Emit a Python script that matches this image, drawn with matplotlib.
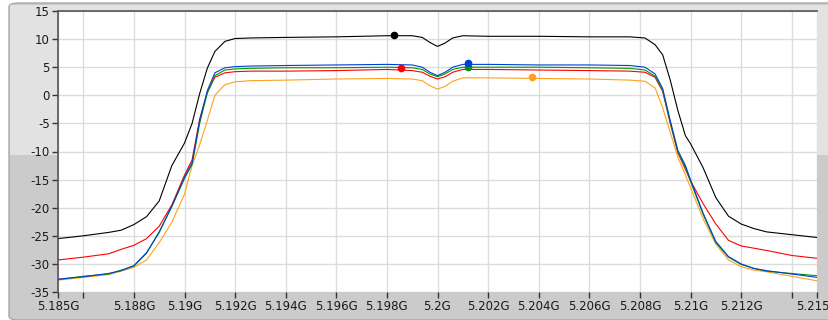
"""Spectrum plot of five channels around 5.2 GHz, with marker dots."""

import matplotlib
matplotlib.use("Agg")
import matplotlib.pyplot as plt
from matplotlib.patches import Rectangle, FancyBboxPatch

matplotlib.rcParams["axes.unicode_minus"] = False

# frequency grid (GHz) shared by all traces
FREQ = [5.185, 5.186, 5.187, 5.1875, 5.188, 5.1885, 5.189, 5.1895, 5.19,
        5.1903, 5.1906, 5.1909, 5.1912, 5.1916, 5.192, 5.1926,
        5.194, 5.196, 5.198,
        5.199, 5.1994, 5.1997, 5.2, 5.2003, 5.2006, 5.201,
        5.202, 5.204, 5.206,
        5.2076, 5.2082, 5.2086, 5.2089, 5.2092, 5.2095, 5.2098, 5.21,
        5.2105, 5.211, 5.2115, 5.212, 5.2125, 5.213, 5.214, 5.215]

BLACK = [-25.5, -25.0, -24.4, -24.0, -23.0, -21.6, -18.8, -12.5, -8.5,
         -5.0, 0.3, 4.8, 7.8, 9.6, 10.1, 10.2,
         10.3, 10.4, 10.6,
         10.6, 10.3, 9.4, 8.7, 9.3, 10.2, 10.6,
         10.5, 10.5, 10.4,
         10.4, 10.2, 9.0, 7.2, 2.7, -2.7, -7.2, -8.6,
         -12.9, -18.2, -21.5, -22.9, -23.7, -24.3, -24.8, -25.3]

BLUE = [-32.7, -32.3, -31.7, -31.2, -30.3, -28.0, -24.4, -19.7, -14.6,
        -12.0, -4.5, 0.8, 4.0, 4.9, 5.1, 5.2,
        5.3, 5.4, 5.5,
        5.4, 5.0, 4.1, 3.5, 4.1, 5.0, 5.5,
        5.5, 5.4, 5.4,
        5.3, 5.0, 3.8, 1.2, -4.5, -9.8, -12.5, -15.0,
        -21.0, -26.0, -28.7, -30.0, -30.8, -31.2, -31.8, -32.4]

GREEN = [-32.8, -32.2, -31.8, -31.1, -30.4, -28.1, -24.3, -19.8, -14.8,
         -12.3, -5.0, 0.4, 3.5, 4.5, 4.7, 4.8,
         4.9, 4.9, 5.0,
         4.9, 4.6, 3.8, 3.3, 3.8, 4.6, 5.0,
         5.0, 5.0, 4.9,
         4.8, 4.5, 3.4, 0.9, -4.8, -10.1, -12.8, -15.3,
         -21.2, -26.2, -28.8, -30.1, -30.8, -31.3, -31.7, -32.1]

RED = [-29.3, -28.8, -28.2, -27.4, -26.7, -25.5, -23.3, -19.5, -14.2,
       -11.5, -4.2, 0.5, 3.2, 4.0, 4.2, 4.3,
       4.3, 4.4, 4.6,
       4.4, 4.1, 3.4, 2.9, 3.3, 4.1, 4.6,
       4.6, 4.5, 4.4,
       4.3, 4.1, 3.2, 0.7, -5.0, -10.2, -13.2, -15.2,
       -19.3, -22.9, -25.8, -26.8, -27.2, -27.6, -28.5, -29.0]

ORANGE = [-32.9, -32.4, -31.9, -31.3, -30.6, -29.3, -26.2, -22.6, -17.6,
          -12.5, -8.8, -4.5, 0.0, 1.9, 2.4, 2.6,
          2.7, 2.9, 3.0,
          2.9, 2.6, 1.7, 1.1, 1.6, 2.5, 3.1,
          3.1, 3.0, 2.9,
          2.7, 2.5, 1.3, -2.2, -6.6, -11.0, -14.2, -16.4,
          -22.0, -26.5, -29.3, -30.5, -31.1, -31.4, -32.2, -33.0]

# marker readouts (freq GHz, level)
MARK_F = [5.1983, 5.19856, 5.2012, 5.20121, 5.20374]
MARK_V = [10.7, 4.8, 5.1, 5.8, 3.3]
MARK_C = ["#000000", "#ff0000", "#009900", "#0040d0", "#ffa020"]

X_TICKS = [5.185, 5.186, 5.188, 5.19, 5.192, 5.194, 5.196, 5.198, 5.2,
           5.202, 5.204, 5.206, 5.208, 5.21, 5.212, 5.214, 5.215]
X_LABELS = ["5.185G", "", "5.188G", "5.19G", "5.192G", "5.194G", "5.196G",
            "5.198G", "5.2G", "5.202G", "5.204G", "5.206G", "5.208G",
            "5.21G", "5.212G", "", "5.215G"]
Y_TICKS = [-35, -30, -25, -20, -15, -10, -5, 0, 5, 10, 15]

W, H = 829, 320
fig = plt.figure(figsize=(W / 100, H / 100), dpi=100)
fig.patch.set_facecolor("white")

# grey panel behind the graph (light top half, darker bottom half)
fig.patches.append(FancyBboxPatch((9 / W, 0), 1.0, (H - 3) / H,
                                  boxstyle="round,pad=0,rounding_size=0.012",
                                  transform=fig.transFigure, facecolor="#cbcbcb",
                                  edgecolor="#a8a8a8", linewidth=1.0, zorder=-2))
fig.patches.append(Rectangle((10 / W, (H - 155) / H), 1.0, 150 / H,
                             transform=fig.transFigure, facecolor="#e2e2e2",
                             edgecolor="none", zorder=-1))

ax = fig.add_axes([58 / W, 28 / H, (817 - 58) / W, (309 - 28) / H])
ax.set_facecolor("white")

lw = 0.8
ax.plot(FREQ, ORANGE, color="#ffa020", linewidth=lw)
ax.plot(FREQ, RED, color="#ff0000", linewidth=lw)
ax.plot(FREQ, GREEN, color="#009900", linewidth=lw)
ax.plot(FREQ, BLUE, color="#0040d0", linewidth=lw)
ax.plot(FREQ, BLACK, color="#000000", linewidth=lw)
for f, v, c in zip(MARK_F, MARK_V, MARK_C):
    ax.plot(f, v, "o", color=c, markersize=4.5, zorder=5)

ax.set_xlim(5.185, 5.215)
ax.set_ylim(-35, 15)
ax.set_xticks(X_TICKS)
ax.set_xticklabels(X_LABELS)
ax.set_yticks(Y_TICKS)
ax.grid(True, color="#dcdcdc", linewidth=1.0)
ax.set_axisbelow(True)
ax.tick_params(axis="both", direction="out", length=4, width=1,
               color="#333333", labelsize=8.5, labelcolor="#1a1a1a", pad=2)

for side in ("bottom", "right"):
    ax.spines[side].set_visible(False)
for side in ("left", "top"):
    ax.spines[side].set_color("#555555")
    ax.spines[side].set_linewidth(1.2)

fig.savefig("out.png", dpi=100, facecolor=fig.get_facecolor())
